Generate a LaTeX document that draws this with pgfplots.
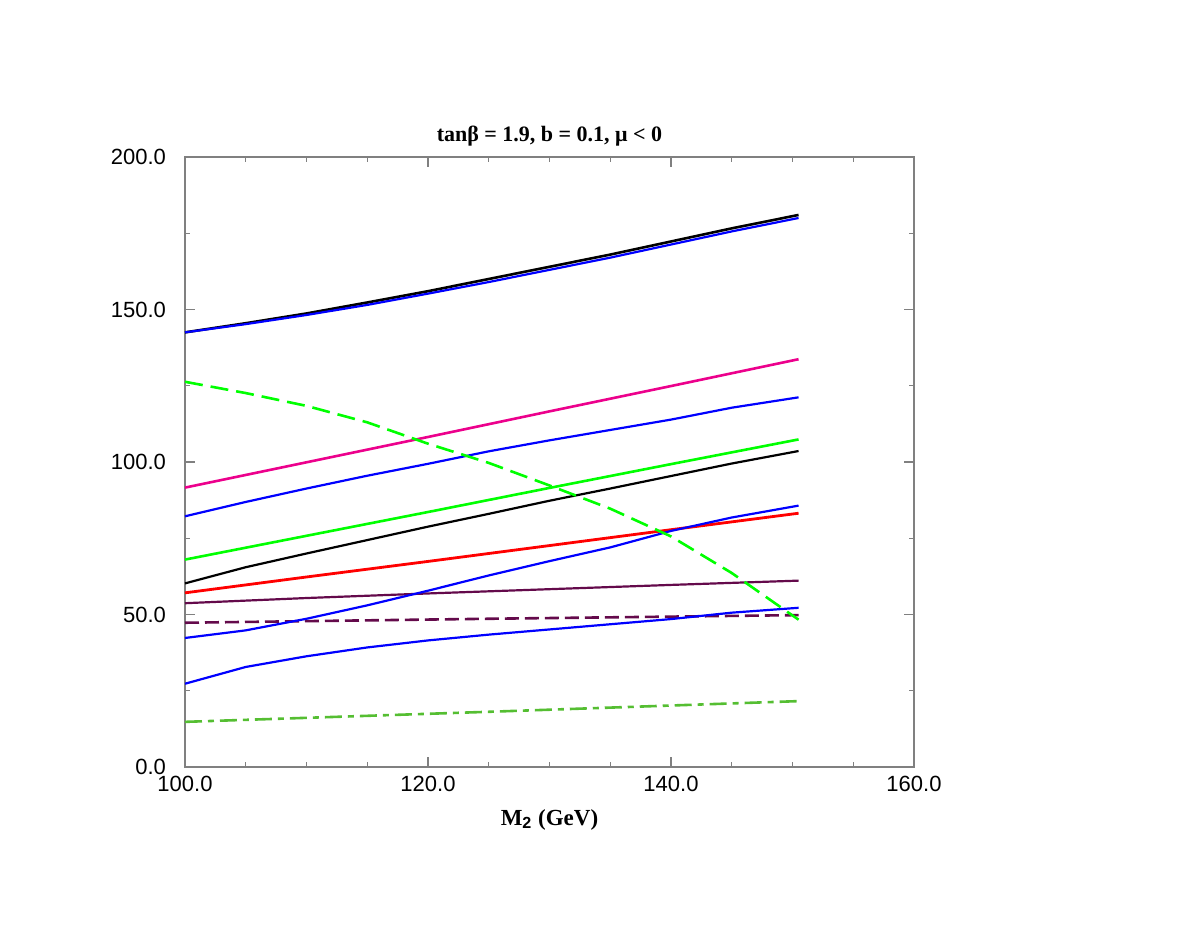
\documentclass[border=0pt]{standalone}
\usepackage{pgfplots}
\pgfplotsset{compat=1.18}
\usepackage{fontspec}
\setmainfont{Liberation Sans}
\newfontfamily\tnr{Liberation Serif}
\definecolor{dpurple}{RGB}{100,10,75}
\definecolor{dgreen}{RGB}{85,190,50}
\definecolor{framegray}{RGB}{128,128,128}

\begin{document}
\begin{tikzpicture}
% page frame: 1 px = 0.5 pt, axis box at 185..914 x 157..767 px
\useasboundingbox (-92.5pt,-79.5pt) rectangle (507pt,383.5pt);
\begin{axis}[
    anchor=south west, at={(0,0)},
    scale only axis,
    width=364.5pt, height=305pt,
    xmin=100, xmax=160, ymin=0, ymax=200,
    xtick={100,120,140,160}, ytick={0,50,...,200},
    minor x tick num=3, minor y tick num=1,
    tick align=inside, tick pos=both,
    major tick length=5pt, minor tick length=2.5pt,
    axis line style={framegray, line width=0.6pt},
    every tick/.style={framegray, line width=0.6pt},
    /pgf/number format/.cd, fixed, fixed zerofill, precision=1, assume math mode=true,
    /pgfplots/.cd,
    tick label style={font=\fontsize{11}{13}\selectfont},
    xticklabel style={yshift=-1pt},
    yticklabel style={xshift=-6pt},
    title={\tnr\bfseries tanβ = 1.9, b = 0.1, μ < 0},
    title style={font=\fontsize{11}{13}\selectfont, yshift=-4pt},
    xlabel={\tnr\bfseries M$_{\mathbf 2}$ (GeV)},
    xlabel style={font=\fontsize{11.5}{14}\selectfont, yshift=-2pt},
    every axis plot/.append style={line width=1.3pt},
]
% black top
\addplot[black] coordinates {(100,142.5) (105,145.5) (110,148.7) (115,152.3) (120,156) (125,160) (130,164) (135,168) (140,172.3) (145,176.6) (150.5,181)};
% blue top
\addplot[blue, line width=1.1pt] coordinates {(100,142.5) (105,145.2) (110,148.2) (115,151.5) (120,155.2) (125,159) (130,163) (135,167) (140,171.3) (145,175.6) (150.5,180)};
% magenta
\addplot[magenta] coordinates {(100,91.6) (110,99.9) (120,108.2) (130,116.6) (140,124.9) (150.5,133.7)};
% blue second
\addplot[blue, line width=1.1pt] coordinates {(100,82.2) (105,86.9) (110,91.3) (115,95.5) (120,99.4) (125,103.5) (130,107.1) (135,110.5) (140,113.9) (145,117.8) (150.5,121.2)};
% green solid
\addplot[green] coordinates {(100,68) (110,75.8) (120,83.6) (130,91.5) (140,99.3) (150.5,107.4)};
% black lower
\addplot[black, line width=1.1pt] coordinates {(100,60.2) (105,65.5) (110,70) (115,74.4) (120,78.8) (125,83) (130,87.3) (135,91.3) (140,95.4) (145,99.5) (150.5,103.6)};
% red
\addplot[red, line width=1.4pt] coordinates {(100,57.1) (110,62.3) (120,67.4) (130,72.6) (140,77.8) (150.5,83.2)};
% dark purple solid
\addplot[dpurple, line width=1.1pt] coordinates {(100,53.7) (110,55.4) (120,56.9) (130,58.3) (140,59.7) (150.5,61.1)};
% dark purple dashed
\addplot[dpurple, dash pattern=on 7pt off 3pt] coordinates {(100,47.3) (125,48.6) (150.5,49.8)};
% blue crossing
\addplot[blue, line width=1.1pt] coordinates {(100,42.3) (105,44.8) (110,48.6) (115,53) (120,57.8) (125,62.8) (130,67.5) (135,72) (140,77.4) (145,81.8) (150.5,85.7)};
% blue lowest
\addplot[blue, line width=1.1pt] coordinates {(100,27.3) (105,32.8) (110,36.3) (115,39.2) (120,41.5) (125,43.4) (130,45.1) (135,46.8) (140,48.5) (145,50.6) (150.5,52.2)};
% green dashed
\addplot[green, dash pattern=on 9pt off 4pt] coordinates {(100,126.3) (105,122.6) (110,118.4) (115,113) (120,106) (125,99.7) (130,92.3) (135,84.7) (140,75.6) (145,63.6) (150.5,48.3)};
% green dash-dot
\addplot[dgreen, dash pattern=on 8.5pt off 3pt on 3pt off 3pt] coordinates {(100,14.8) (125,18.1) (150.5,21.6)};
\end{axis}
\end{tikzpicture}
\end{document}
